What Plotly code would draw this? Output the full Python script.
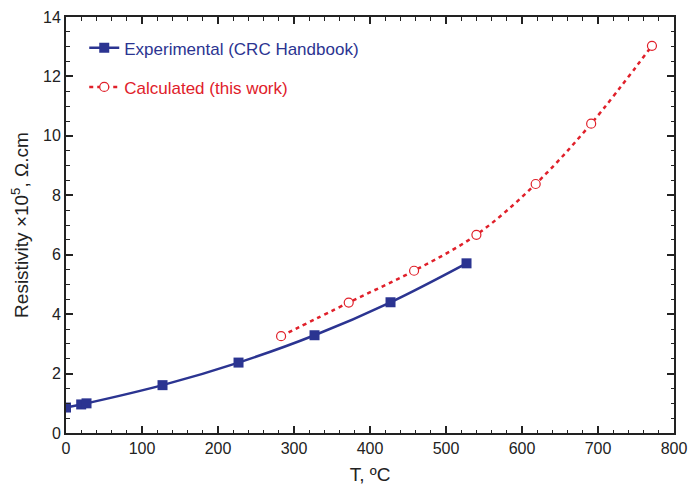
import plotly.graph_objects as go

# Resistivity of iron vs temperature
t_exp = [0, 20, 27, 127, 227, 327, 427, 527]
rho_exp = [0.857, 0.961, 0.998, 1.61, 2.37, 3.29, 4.40, 5.71]

t_calc = [283, 372, 458, 540, 618, 691, 771]
rho_calc = [3.26, 4.39, 5.46, 6.67, 8.38, 10.41, 13.03]

x_ticks = [0, 100, 200, 300, 400, 500, 600, 700, 800]
y_ticks = [0, 2, 4, 6, 8, 10, 12, 14]

BLUE = "#2b3491"
RED = "#e0202a"
AXIS = "#222222"
FONT = "Liberation Sans, Arial, sans-serif"

fig = go.Figure()

fig.add_trace(go.Scatter(
    x=t_exp, y=rho_exp, mode="lines+markers",
    name=f"<span style='color:{BLUE}'>Experimental (CRC Handbook)</span>",
    legendgroup="exp",
    line=dict(color=BLUE, width=2.5, shape="spline"),
    marker=dict(symbol="square", size=10, color=BLUE),
))

fig.add_trace(go.Scatter(
    x=t_calc, y=rho_calc, mode="lines+markers",
    name=f"<span style='color:{RED}'>Calculated (this work)</span>",
    legendgroup="calc",
    line=dict(color=RED, width=2.5, shape="spline", dash="4px,4px"),
    marker=dict(symbol="circle", size=9, color="white", line=dict(width=1.2, color=RED)),
))

axis_common = dict(
    showgrid=False, zeroline=False, automargin=False,
    showline=True, linecolor=AXIS, linewidth=2, mirror="allticks",
    ticks="inside", ticklen=7, tickwidth=1.5, tickcolor=AXIS,
    tickfont=dict(family=FONT, size=16, color="#222222"),
)

fig.update_xaxes(
    range=[0, 800], tickvals=x_ticks,
    minor=dict(ticks="inside", dtick=20, ticklen=3.5, tickwidth=1.2, tickcolor=AXIS),
    title=dict(text="T, ºC", font=dict(family=FONT, size=19, color="#222222"), standoff=12),
    **axis_common,
)
fig.update_yaxes(
    range=[0, 14], tickvals=y_ticks,
    minor=dict(ticks="inside", dtick=0.5, ticklen=3.5, tickwidth=1.2, tickcolor=AXIS),
    title=dict(text="Resistivity ×10<sup>5</sup>, Ω.cm",
               font=dict(family=FONT, size=19, color="#222222"), standoff=9),
    **axis_common,
)

fig.update_layout(
    width=689, height=485,
    margin=dict(l=66, r=15, t=17, b=52),
    paper_bgcolor="white", plot_bgcolor="white",
    font=dict(family=FONT, size=17),
    legend=dict(
        x=0.03, y=0.968, xanchor="left", yanchor="top",
        bgcolor="rgba(0,0,0,0)", borderwidth=0,
        font=dict(family=FONT, size=17),
        traceorder="grouped", tracegroupgap=14,
    ),
)

fig.write_html("out.html")
